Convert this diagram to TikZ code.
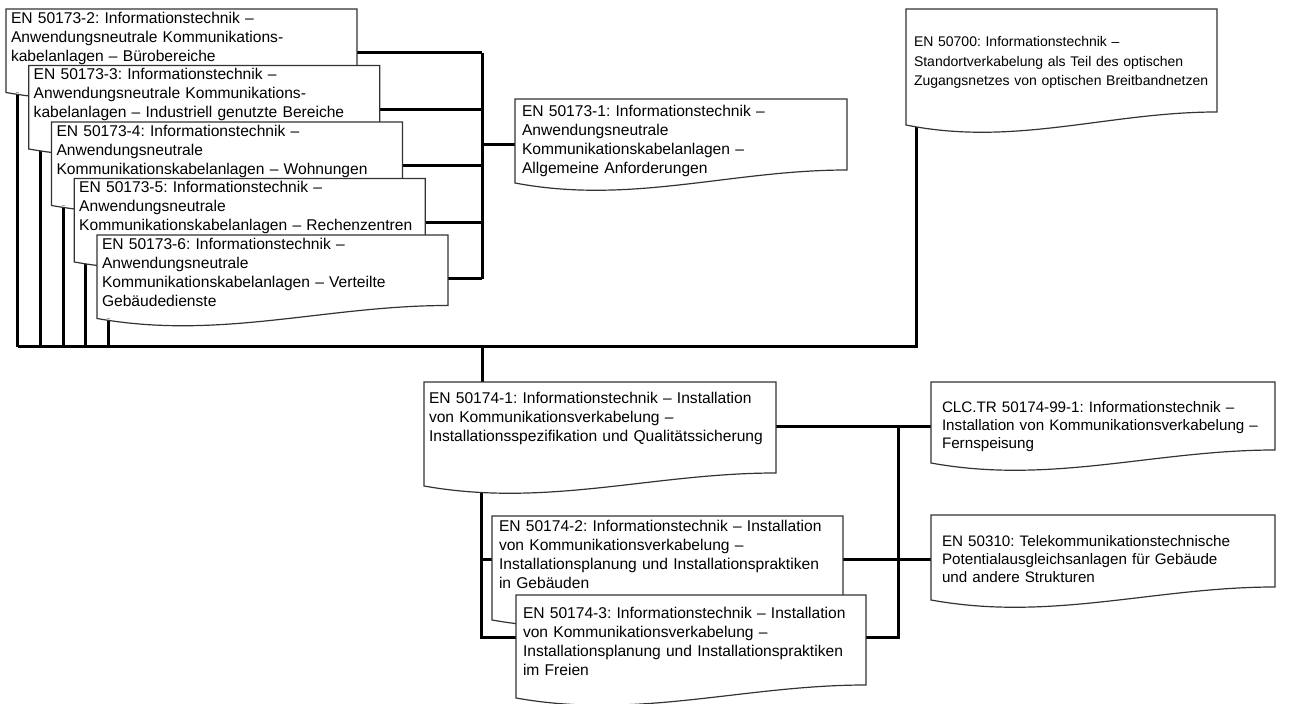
\documentclass[tikz,border=0pt]{standalone}
\usepackage{fontspec}
\setmainfont{Liberation Sans}
\frenchspacing
\usetikzlibrary{calc}

\pgfdeclarelayer{lines}
\pgfsetlayers{lines,main}

% outline of a document box: straight top and sides, wavy bottom
\newcommand{\docframe}[1]{%
  \fill[white] ($(#1.south east)+(0,-13)$)
    .. controls ($(#1.south west)!0.65!(#1.south east)+(0,-13)$) and ($(#1.south west)!0.35!(#1.south east)+(0,22)$) .. (#1.south west)
    -- (#1.south east) -- cycle;
  \draw[frame] (#1.south west) -- (#1.north west) -- (#1.north east) -- ($(#1.south east)+(0,-13)$)
    .. controls ($(#1.south west)!0.65!(#1.south east)+(0,-13)$) and ($(#1.south west)!0.35!(#1.south east)+(0,22)$) .. cycle;
}

\begin{document}
\begin{tikzpicture}[x=0.5pt, y=-0.5pt]
    \tikzstyle{frame}=[draw=black!80, line width=0.6pt, line join=miter]
    \tikzstyle{link}=[draw=black, line width=1.5pt]
    \tikzstyle{doc}=[rectangle, fill=white, draw=none, anchor=north west, align=left, inner xsep=3.5pt, inner ysep=0pt, outer sep=0pt, font=\fontsize{7.8}{9.5}\selectfont]
    \tikzstyle{cascade}=[doc, inner xsep=2.5pt, text width=170.5pt, text height=7.25pt, text depth=34.5pt]
    \tikzstyle{side}=[doc, inner xsep=5.5pt, text width=161pt, font=\fontsize{7.6}{9}\selectfont]

    \useasboundingbox (0,0) rectangle (1292,704);

    % EN 50173 parts
    \node[cascade] (en2) at (6,9) {EN 50173-2: Informationstechnik –\\Anwendungsneutrale Kommunikations-\\kabelanlagen – Bürobereiche};
    \docframe{en2}
    \node[cascade] (en3) at ($(en2.north west)+(22.75,56.5)$) {EN 50173-3: Informationstechnik –\\Anwendungsneutrale Kommunikations-\\kabelanlagen – Industriell genutzte Bereiche};
    \docframe{en3}
    \node[cascade] (en4) at ($(en3.north west)+(22.75,56.5)$) {EN 50173-4: Informationstechnik –\\Anwendungsneutrale\\Kommunikationskabelanlagen – Wohnungen};
    \docframe{en4}
    \node[cascade] (en5) at ($(en4.north west)+(22.75,56.5)$) {EN 50173-5: Informationstechnik –\\Anwendungsneutrale\\Kommunikationskabelanlagen – Rechenzentren};
    \docframe{en5}
    \node[cascade] (en6) at ($(en5.north west)+(22.75,56.5)$) {EN 50173-6: Informationstechnik –\\Anwendungsneutrale\\Kommunikationskabelanlagen – Verteilte\\Gebäudedienste};
    \docframe{en6}

    \node[doc, text width=159pt, text height=9pt, text depth=33pt] (en1) at (515,99) {EN 50173-1: Informationstechnik –\\Anwendungsneutrale\\Kommunikationskabelanlagen –\\Allgemeine Anforderungen};
    \docframe{en1}

    % EN 50700
    \node[doc, inner xsep=4pt, text width=147.5pt, text height=19pt, text depth=39pt, font=\fontsize{7}{9.65}\selectfont] (en50700) at (906,9) {EN 50700: Informationstechnik –\\Standortverkabelung als Teil des optischen\\Zugangsnetzes von optischen Breitbandnetzen};
    \docframe{en50700}

    % EN 50174 parts
    \node[doc, inner xsep=2.5pt, text width=171pt, text height=11pt, text depth=41pt] (en741) at (424,382) {EN 50174-1: Informationstechnik – Installation\\von Kommunikationsverkabelung –\\Installationsspezifikation und Qualitätssicherung};
    \docframe{en741}
    \node[doc, text width=168.5pt, text height=8pt, text depth=44pt] (en742) at (492,516) {EN 50174-2: Informationstechnik – Installation\\von Kommunikationsverkabelung –\\Installationsplanung und Installationspraktiken\\in Gebäuden};
    \docframe{en742}
    \node[doc, text width=168pt, text height=12pt, text depth=39.5pt] (en743) at (516,595) {EN 50174-3: Informationstechnik – Installation\\von Kommunikationsverkabelung –\\Installationsplanung und Installationspraktiken\\im Freien};
    \docframe{en743}

    % Related documents
    \node[side, text height=15.5pt, text depth=25pt] (clc) at (931,382) {CLC.TR 50174-99-1: Informationstechnik –\\Installation von Kommunikationsverkabelung –\\Fernspeisung};
    \docframe{clc}
    \node[side, text height=16pt, text depth=26.5pt, font=\fontsize{7.6}{8.8}\selectfont] (en310) at (931,515) {EN 50310: Telekommunikationstechnische\\Potentialausgleichsanlagen für Gebäude\\und andere Strukturen};
    \docframe{en310}

    % Connections
    \coordinate (trunk) at (482,347);
    \coordinate (lbus) at (481,638);
    \coordinate (rbus) at (898,638);
    \coordinate (clcin) at ([yshift=-2pt]clc.west);
    \begin{pgfonlayer}{lines}
        \foreach \n in {en2,en3,en4,en5,en6} {
            \draw[link] ([yshift=-1pt]\n.east) -- ([yshift=-1pt]\n.east -| trunk);
            \draw[link] ([xshift=5.75pt]\n.south west) -- ([xshift=5.75pt]\n.south west |- trunk);
        }
        \draw[link] ([yshift=-1pt]en2.east -| trunk) -- ([yshift=-1pt]en6.east -| trunk);
        \draw[link] ([yshift=-2pt]en1.west -| trunk) -- ([yshift=-2pt]en1.west);
        \draw[link] ([xshift=5.75pt]en2.south west |- trunk) -| ([xshift=5pt]en50700.south west);
        \draw[link] (trunk) -- (trunk |- en741.north);
        \draw[link] (clcin -| en741.east) -- (clcin);
        \draw[link] (en741.south -| lbus) -- (lbus) -- (rbus) -- (rbus |- clcin);
        \draw[link] ([yshift=-1pt]en310.west -| lbus) -- ([yshift=-1pt]en310.west);
    \end{pgfonlayer}
\end{tikzpicture}
\end{document}
